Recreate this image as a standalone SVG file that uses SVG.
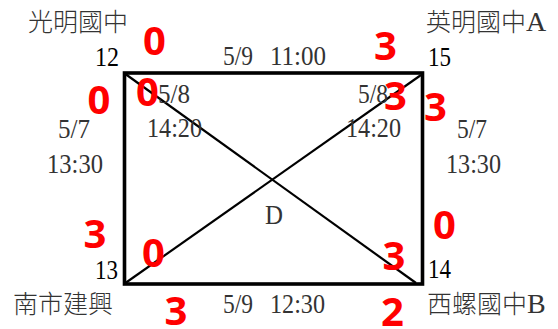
<svg xmlns="http://www.w3.org/2000/svg" width="558" height="329" viewBox="0 0 558 329">
<style>
.cjk{font-family:"Noto Sans CJK TC","Noto Sans CJK SC",sans-serif;font-size:25px;font-weight:300;fill:#333}
.ser{font-family:"Liberation Serif","Times New Roman",serif;font-size:28px;fill:#333}
.num{font-family:"Liberation Serif","Times New Roman",serif;font-size:28px;fill:#000}
.score{font-family:"Open Sans","Liberation Sans",sans-serif;font-weight:bold;font-size:40px;fill:#ff0000;text-anchor:middle}
.edge{fill:none;stroke:#000;stroke-width:3.6}
.diag{stroke:#000;stroke-width:2.2}
</style>
<g id="connectors">
  <rect class="edge" x="124.5" y="73" width="298" height="211"/>
  <line class="diag" x1="124" y1="73" x2="416" y2="283"/>
  <line class="diag" x1="124" y1="284" x2="421" y2="75"/>
</g>
<g id="node-12">
  <text class="cjk" x="28" y="31">光明國中</text>
  <text class="num" x="95" y="66" textLength="24" lengthAdjust="spacingAndGlyphs">12</text>
</g>
<g id="node-15">
  <text class="cjk" x="426" y="31">英明國中<tspan style="font-family:'Liberation Serif',serif;font-size:28px;font-weight:normal">A</tspan></text>
  <text class="num" x="428" y="66" textLength="23" lengthAdjust="spacingAndGlyphs">15</text>
</g>
<g id="node-13">
  <text class="cjk" x="13" y="313">南市建興</text>
  <text class="num" x="95" y="279" textLength="23" lengthAdjust="spacingAndGlyphs">13</text>
</g>
<g id="node-14">
  <text class="cjk" x="427" y="313">西螺國中<tspan style="font-family:'Liberation Serif',serif;font-size:28px;font-weight:normal">B</tspan></text>
  <text class="num" x="428" y="278" textLength="23" lengthAdjust="spacingAndGlyphs">14</text>
</g>
<g id="node-D">
  <text class="ser" x="265" y="224" textLength="18" lengthAdjust="spacingAndGlyphs">D</text>
</g>
<g id="labels">
  <text class="ser" x="223" y="65" textLength="30" lengthAdjust="spacingAndGlyphs">5/9</text>
  <text class="ser" x="270" y="65" textLength="56" lengthAdjust="spacingAndGlyphs">11:00</text>
  <text class="ser" x="223" y="313" textLength="30" lengthAdjust="spacingAndGlyphs">5/9</text>
  <text class="ser" x="270" y="313" textLength="55" lengthAdjust="spacingAndGlyphs">12:30</text>
  <text class="ser" x="58" y="138" textLength="32" lengthAdjust="spacingAndGlyphs">5/7</text>
  <text class="ser" x="47" y="173" textLength="56" lengthAdjust="spacingAndGlyphs">13:30</text>
  <text class="ser" x="457" y="138" textLength="30" lengthAdjust="spacingAndGlyphs">5/7</text>
  <text class="ser" x="446" y="173" textLength="55" lengthAdjust="spacingAndGlyphs">13:30</text>
  <text class="ser" x="158" y="103" textLength="32" lengthAdjust="spacingAndGlyphs">5/8</text>
  <text class="ser" x="147" y="137" textLength="55" lengthAdjust="spacingAndGlyphs">14:20</text>
  <text class="ser" x="358" y="103" textLength="30" lengthAdjust="spacingAndGlyphs">5/8</text>
  <text class="ser" x="346" y="137" textLength="55" lengthAdjust="spacingAndGlyphs">14:20</text>
</g>
<g id="scores">
  <text class="score" x="154.5" y="55">0</text>
  <text class="score" x="385.5" y="60">3</text>
  <text class="score" x="99" y="114">0</text>
  <text class="score" x="147.5" y="106">0</text>
  <text class="score" x="395.5" y="110">3</text>
  <text class="score" x="435.5" y="121">3</text>
  <text class="score" x="95" y="248">3</text>
  <text class="score" x="153.5" y="267">0</text>
  <text class="score" x="444.5" y="239">0</text>
  <text class="score" x="394" y="270">3</text>
  <text class="score" x="176" y="325">3</text>
  <text class="score" x="392.5" y="326">2</text>
</g>
</svg>
